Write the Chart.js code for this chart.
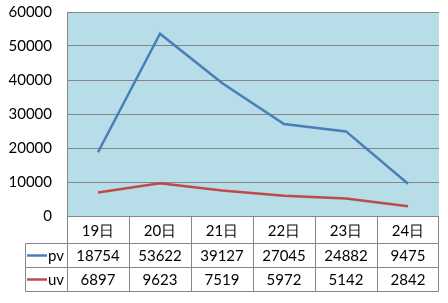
<!DOCTYPE html>
<html>
<head>
<meta charset="utf-8">
<script src="https://cdn.jsdelivr.net/npm/chart.js@4/dist/chart.umd.min.js"></script>
<style>
    html, body { margin: 0; padding: 0; background: #fff; }
    #wrap { width: 448px; height: 303px; }
</style>
</head>
<body>
<div id="wrap"><canvas id="myChart"></canvas></div>
<script>
const days = ['19日', '20日', '21日', '22日', '23日', '24日'];
const pv = [18754, 53622, 39127, 27045, 24882, 9475];
const uv = [6897, 9623, 7519, 5972, 5142, 2842];
const yMax = 60000;
const yStep = 10000;

const FAMILY = 'Lato, "Liberation Sans", sans-serif';
const FONT = '15px ' + FAMILY;
const GRID = '#868686';
const BLUE = '#4a7ebb';
const RED = '#be4b48';

// light blue plot background
const plotBg = {
    id: 'plotBg',
    beforeDraw(chart) {
        let { ctx, chartArea: a } = chart;
        ctx.save();
        ctx.fillStyle = '#b7dde8';
        ctx.fillRect(a.left, a.top, a.right - a.left, a.bottom - a.top);
        ctx.restore();
    }
};

// excel style data table under the plot
const dataTable = {
    id: 'dataTable',
    afterDraw(chart) {
        let { ctx, chartArea: a } = chart;
        let x = chart.scales.x;
        let half = (x.getPixelForValue(1) - x.getPixelForValue(0)) / 2;
        let top = Math.round(a.bottom) + 0.5;
        let rows = [top, top + 27, top + 51, top + 75];
        let left = 25.5;
        let colL = Math.round(a.left) + 0.5;
        let colR = Math.round(a.right) - 0.5;

        ctx.save();
        ctx.strokeStyle = GRID;
        ctx.lineWidth = 1;
        ctx.beginPath();
        ctx.moveTo(colL, rows[0]); ctx.lineTo(colR, rows[0]);
        for (let r = 1; r < 4; r++) {
            ctx.moveTo(left, rows[r]); ctx.lineTo(colR, rows[r]);
        }
        ctx.moveTo(left, rows[1]); ctx.lineTo(left, rows[3]);
        for (let i = 0; i <= days.length; i++) {
            let px = i === days.length ? colR : Math.round(x.getPixelForValue(i) - half) + 0.5;
            ctx.moveTo(px, rows[0]); ctx.lineTo(px, rows[3]);
        }
        ctx.stroke();

        ctx.font = FONT;
        ctx.fillStyle = '#000';
        ctx.textAlign = 'center';
        ctx.textBaseline = 'middle';
        days.forEach((d, i) => {
            let px = x.getPixelForValue(i);
            ctx.fillText(d, px, (rows[0] + rows[1]) / 2 + 1);
            ctx.fillText(pv[i], px, (rows[1] + rows[2]) / 2 + 1);
            ctx.fillText(uv[i], px, (rows[2] + rows[3]) / 2 + 1);
        });

        let series = [['pv', BLUE], ['uv', RED]];
        series.forEach(([name, color], r) => {
            let cy = (rows[r + 1] + rows[r + 2]) / 2;
            ctx.strokeStyle = color;
            ctx.lineWidth = 2.5;
            ctx.beginPath();
            ctx.moveTo(27, cy); ctx.lineTo(47, cy);
            ctx.stroke();
            ctx.fillStyle = '#000';
            ctx.textAlign = 'left';
            ctx.fillText(name, 48, cy + 1);
        });
        ctx.restore();
    }
};

new Chart(document.getElementById('myChart'), {
    type: 'line',
    data: {
        labels: days,
        datasets: [{
            label: 'pv',
            data: pv,
            borderColor: BLUE,
            borderWidth: 2.5,
            pointRadius: 0,
            tension: 0
        }, {
            label: 'uv',
            data: uv,
            borderColor: RED,
            borderWidth: 2.5,
            pointRadius: 0,
            tension: 0
        }]
    },
    options: {
        responsive: true,
        maintainAspectRatio: false,
        animation: false,
        layout: { padding: { left: 0, top: 12, right: 9, bottom: 87 } },
        plugins: {
            legend: { display: false },
            tooltip: { enabled: false }
        },
        scales: {
            x: {
                display: false,
                offset: true
            },
            y: {
                min: 0,
                max: yMax,
                afterFit: s => {
                    s.width = 67;
                    s.paddingTop = 12;
                    s.paddingBottom = 0;
                },
                ticks: {
                    stepSize: yStep,
                    color: '#000',
                    padding: 15,
                    font: { family: FAMILY, size: 15 },
                    callback: v => String(v)
                },
                grid: { color: GRID, lineWidth: 1, drawTicks: false },
                border: { display: true, color: GRID, width: 1 }
            }
        }
    },
    plugins: [plotBg, dataTable]
});
</script>
</body>
</html>
